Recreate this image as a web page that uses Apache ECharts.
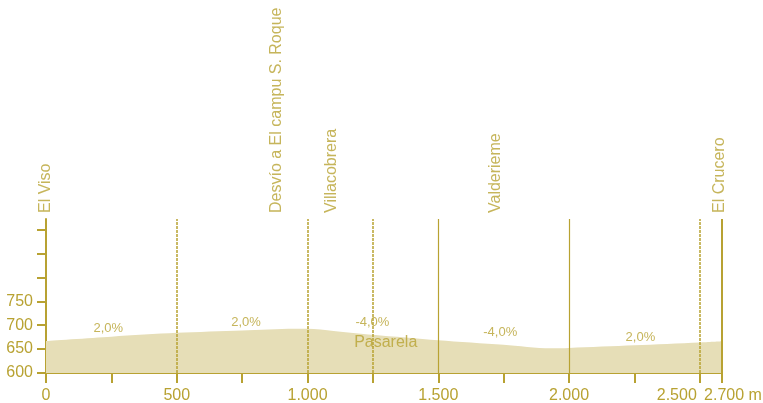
<!DOCTYPE html>
<html>
<head>
<meta charset="utf-8">
<script src="https://cdn.jsdelivr.net/npm/echarts@6/dist/echarts.min.js"></script>
<style>
html,body{margin:0;padding:0;background:#fff;}
#c{width:763px;height:403px;}
</style>
</head>
<body>
<div id="c"></div>
<script>
// profile (distance m, elevation m)
var distances = [0, 250, 500, 750, 950, 1000, 1100, 1250, 1500, 1750, 1930, 2000, 2250, 2500, 2585];
var elevations = [667, 676, 684, 689, 692.5, 692.5, 688, 680, 668.5, 659, 651.5, 652.5, 658, 664, 666.5];

// x axis ticks / labels
var xTickValues = [0, 250, 500, 750, 1000, 1250, 1500, 1750, 2000, 2250, 2500, 2585];
var xLabelValues = [0, 500, 1000, 1500, 2000, 2500, 2585];
var xLabelTexts = ['0', '500', '1.000', '1.500', '2.000', '2.500', '2.700 m'];

// y axis ticks / labels
var yTickValues = [600, 650, 700, 750, 800, 850, 900];
var yLabelValues = [600, 650, 700, 750];

// vertical reference lines
var lineDist = [500, 1000, 1250, 1500, 2000, 2500, 2585];
var lineDashed = [true, true, true, false, false, true, false];

// place names (rotated)
var placeNames = ['El Viso', 'Desvío a El campu S. Roque', 'Villacobrera', 'Valderieme', 'El Crucero'];
var placeDist = [0, 883, 1093, 1720, 2576];

// slope labels
var slopeTexts = ['2,0%', '2,0%', '-4,0%', '-4,0%', '2,0%'];
var slopeDist = [238, 765, 1248, 1737, 2273];
var slopeElev = [693.5, 706, 706.7, 684.5, 675.3];

// other annotation
var noteTexts = ['Pasarela'];
var noteDist = [1299];
var noteElev = [663];

var GOLD = '#b8a232';
var FILL = '#e6deb7';
var FONT = '"Liberation Sans", Arial, Helvetica, sans-serif';
var Y_MIN = 600, Y_MAX = 922, X_MAX = 2585;

var chart = echarts.init(document.getElementById('c'));

var profile = distances.map(function (d, i) { return [d, elevations[i]]; });

var markLineData = lineDist.map(function (d, i) {
  return {
    xAxis: d,
    lineStyle: {
      color: GOLD,
      width: d === X_MAX ? 2 : (lineDashed[i] ? 1.5 : 1.2),
      type: lineDashed[i] ? [3, 1] : 'solid'
    }
  };
});

var places = placeNames.map(function (n, i) { return { value: [placeDist[i], Y_MAX], name: n }; });
var slopes = slopeTexts.map(function (t, i) { return { value: [slopeDist[i], slopeElev[i]], name: t }; });
var notes = noteTexts.map(function (t, i) { return { value: [noteDist[i], noteElev[i]], name: t }; });

chart.setOption({
  animation: false,
  backgroundColor: '#ffffff',
  grid: { left: 46, right: 41, top: 219, bottom: 30, containLabel: false, outerBoundsMode: 'none' },
  xAxis: {
    type: 'value',
    min: 0,
    max: X_MAX,
    axisLine: { show: true, lineStyle: { color: GOLD, width: 2 } },
    axisTick: { show: true, length: 10, lineStyle: { color: GOLD, width: 2 }, customValues: xTickValues },
    splitLine: { show: false },
    axisLabel: {
      customValues: xLabelValues,
      color: GOLD,
      fontFamily: FONT,
      fontSize: 16,
      margin: 15,
      hideOverlap: false,
      formatter: function (v) {
        var idx = xLabelValues.indexOf(v);
        var t = idx >= 0 ? xLabelTexts[idx] : '';
        if (v === 2500) return '{l|' + t + '}';
        if (v === X_MAX) return '{r|' + t + '}';
        return t;
      },
      rich: {
        l: { color: GOLD, fontFamily: FONT, fontSize: 16, padding: [0, 46, 0, 0] },
        r: { color: GOLD, fontFamily: FONT, fontSize: 16, padding: [0, 0, 0, 22] }
      }
    }
  },
  yAxis: {
    type: 'value',
    min: Y_MIN,
    max: Y_MAX,
    axisLine: { show: true, lineStyle: { color: GOLD, width: 2 } },
    axisTick: { show: true, length: 9, lineStyle: { color: GOLD, width: 2 }, customValues: yTickValues },
    splitLine: { show: false },
    axisLabel: {
      customValues: yLabelValues,
      color: GOLD,
      fontFamily: FONT,
      fontSize: 16,
      margin: 13
    }
  },
  series: [
    {
      type: 'line',
      data: profile,
      smooth: 0.3,
      showSymbol: false,
      silent: true,
      lineStyle: { width: 0 },
      areaStyle: { color: FILL, opacity: 1, origin: 'start' },
      z: 1,
      markLine: {
        silent: true,
        symbol: ['none', 'none'],
        label: { show: false },
        data: markLineData,
        z: 3
      }
    },
    {
      type: 'scatter',
      data: places,
      symbolSize: 0,
      silent: true,
      label: {
        show: true,
        formatter: '{b}',
        position: 'top',
        distance: 6,
        rotate: 90,
        align: 'left',
        verticalAlign: 'middle',
        color: GOLD,
        fontFamily: FONT,
        fontSize: 16
      }
    },
    {
      type: 'scatter',
      data: slopes,
      symbolSize: 0,
      silent: true,
      z: 5,
      label: {
        show: true,
        formatter: '{b}',
        position: 'inside',
        color: GOLD,
        fontFamily: FONT,
        fontSize: 13
      }
    },
    {
      type: 'scatter',
      data: notes,
      symbolSize: 0,
      silent: true,
      z: 5,
      label: {
        show: true,
        formatter: '{b}',
        position: 'inside',
        color: GOLD,
        fontFamily: FONT,
        fontSize: 16
      }
    }
  ]
});
</script>
</body>
</html>
